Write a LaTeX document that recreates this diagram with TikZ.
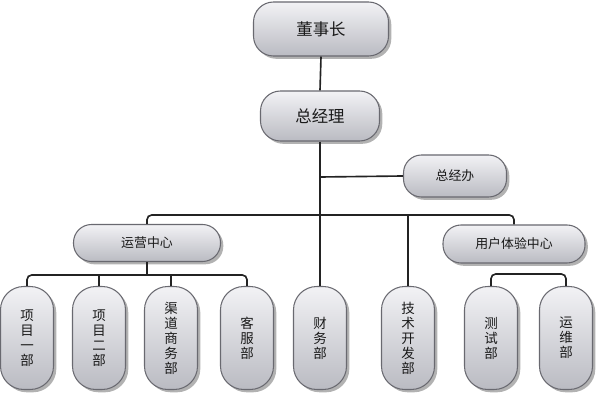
\documentclass[tikz,border=0pt]{standalone}
\usepackage{fontspec}
\newfontfamily\cjk{Noto Sans CJK SC}
\usetikzlibrary{shadows}
\definecolor{boxtop}{RGB}{242,242,245}
\definecolor{boxbot}{RGB}{186,187,194}
\definecolor{boxline}{RGB}{105,105,112}
\definecolor{linec}{RGB}{35,35,35}
\tikzset{
  orgbox/.style={draw=boxline, line width=0.9pt, top color=boxtop, bottom color=boxbot,
    font=\cjk, text=black!90, align=center, inner sep=0pt,
    drop shadow={shadow xshift=2.4pt, shadow yshift=-2.4pt, opacity=0.3, fill=black}},
  topbox/.style={orgbox, minimum width=40.5mm, minimum height=16.2mm, rounded corners=6mm, font=\cjk\fontsize{14}{16}\selectfont},
  midbox/.style={orgbox, minimum width=35.7mm, minimum height=15mm, rounded corners=6mm, font=\cjk\fontsize{14}{16}\selectfont},
  pillbox/.style={orgbox, rounded corners=5.4mm, font=\cjk\fontsize{11}{13}\selectfont},
  vbox/.style={orgbox, minimum width=15.9mm, minimum height=30.9mm, rounded corners=7mm, font=\cjk\fontsize{11.5}{12.8}\selectfont},
  conn/.style={draw=linec, line width=1.4pt, rounded corners=4pt}
}
\begin{document}
\begin{tikzpicture}[x=0.3mm, y=-0.3mm]
\useasboundingbox (0,0) rectangle (600,397);
\fill[white] (0,0) rectangle (600,397);
% nodes
\node[topbox] (dsz) at (321,29) {董事长};
\node[midbox] (zjl) at (320,116) {总经理};
\node[pillbox, minimum width=30.9mm, minimum height=12.6mm] (zjb) at (455,176) {总经办};
\node[pillbox, minimum width=44.1mm, minimum height=11.1mm] (yy) at (147,243) {运营中心};
\node[pillbox, minimum width=42.6mm, minimum height=11.4mm] (ux) at (514,244) {用户体验中心};
\node[vbox] (c1) at (27,338) {项\\目\\一\\部};
\node[vbox] (c2) at (99,338) {项\\目\\二\\部};
\node[vbox] (c3) at (171,338) {渠\\道\\商\\务\\部};
\node[vbox] (c4) at (247,338) {客\\服\\部};
\node[vbox] (cw) at (320,338) {财\\务\\部};
\node[vbox] (js) at (408,338) {技\\术\\开\\发\\部};
\node[vbox] (cs) at (491,338) {测\\试\\部};
\node[vbox] (yw) at (566,338) {运\\维\\部};
% helper coordinates
\coordinate (bar) at (320,215);
\coordinate (bar2) at (147,275);
\coordinate (bar3) at (528,274);
\coordinate (zb) at (320,177);
% connectors
\draw[conn] (dsz.south) -- (zjl.north);
\draw[conn] (zjl.south) -- (cw.north);
\draw[conn] (zb) -- (zjb.west);
\draw[conn] (yy.north) |- (bar) -| (ux.north);
\draw[conn] (js.north) -- (js.north |- bar);
\draw[conn] (yy.south) -- (bar2);
\draw[conn] (c1.north) |- (bar2) -| (c4.north);
\draw[conn] (c2.north) -- (c2.north |- bar2);
\draw[conn] (c3.north) -- (c3.north |- bar2);
\draw[conn] (cs.north) |- (bar3) -| (yw.north);
\end{tikzpicture}
\end{document}
